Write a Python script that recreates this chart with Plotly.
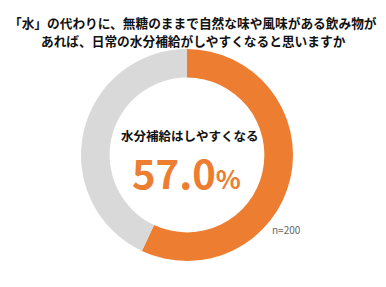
import plotly.graph_objects as go

labels = ["水分補給はしやすくなる", "その他"]
values = [57.0, 43.0]
colors = ["#ED7D31", "#D9D9D9"]
title_lines = ["「水」の代わりに、無糖のままで自然な味や風味がある飲み物が",
               "あれば、日常の水分補給がしやすくなると思いますか"]
center_label = "水分補給はしやすくなる"
n_label = "n=200"

W, H = 386, 287
fig = go.Figure(go.Pie(
    labels=labels, values=values, hole=0.73, sort=False, direction="clockwise",
    rotation=0, marker=dict(colors=colors, line=dict(width=0)),
    textinfo="none", hoverinfo="label+percent", showlegend=False,
    domain=dict(x=[81/W, 293/W], y=[1-261/H, 1-49/H]),
))
jp = "Noto Sans CJK JP"
fig.add_annotation(text="<b>" + title_lines[0] + "</b>", x=193/W, y=1-11/H, xref="paper", yref="paper",
                   showarrow=False, font=dict(family=jp, size=12.7, color="#111"))
fig.add_annotation(text="<b>" + title_lines[1] + "</b>", x=193/W, y=1-29/H, xref="paper", yref="paper",
                   showarrow=False, font=dict(family=jp, size=12.7, color="#111"))
fig.add_annotation(text="<b>" + center_label + "</b>", x=189/W, y=1-135/H, xref="paper", yref="paper",
                   showarrow=False, font=dict(family=jp, size=12.5, color="#111"))
fig.add_annotation(text=f"<b>{values[0]:.1f}<span style='font-size:26px'>%</span></b>",
                   x=186/W, y=1-172/H, xref="paper", yref="paper",
                   showarrow=False, font=dict(family=jp, size=40, color=colors[0]))
fig.add_annotation(text=n_label, x=270/W, y=1-239/H, xref="paper", yref="paper", xanchor="left",
                   showarrow=False, font=dict(family=jp, size=10, color="#666"))
fig.update_layout(width=W, height=H, margin=dict(l=0, r=0, t=0, b=0),
                  paper_bgcolor="white", plot_bgcolor="white")
fig.write_html("out.html")
